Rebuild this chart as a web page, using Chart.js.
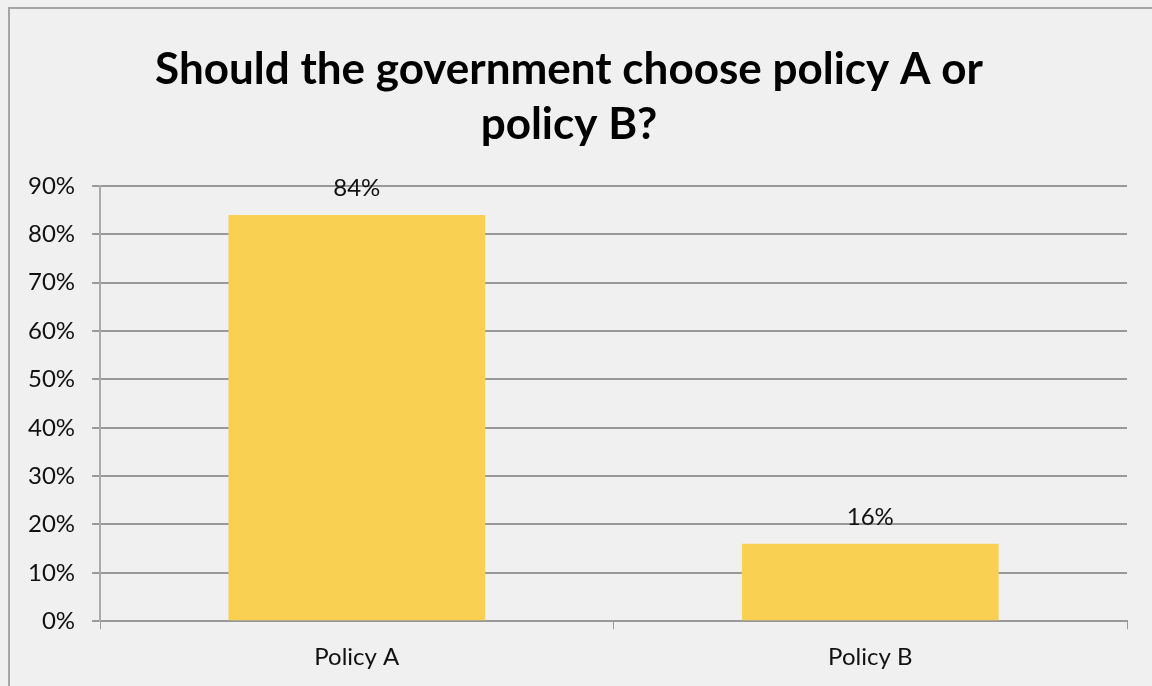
<!DOCTYPE html>
<html>
<head>
<meta charset="utf-8">
<script src="https://cdn.jsdelivr.net/npm/chart.js@4.4.1/dist/chart.umd.min.js"></script>
<style>
  html, body { margin: 0; padding: 0; background: #f0f0f0; }
  #wrap { position: relative; width: 1152px; height: 686px; overflow: hidden; }
  #frame {
    position: absolute; left: 8px; top: 7px; width: 1300px; height: 800px;
    border-left: 2px solid #a6a6a6; border-top: 2px solid #a6a6a6;
  }
  canvas { position: absolute; left: 0; top: 0; }
</style>
</head>
<body>
<div id="wrap">
  <div id="frame"></div>
  <canvas id="chart" width="1152" height="686"></canvas>
</div>
<script>
// values
const policies = ['Policy A', 'Policy B'];
const shares = [84, 16];
const titleLines = ['Should the government choose policy A or', 'policy B?'];

const FONT = 'Lato, "Open Sans", sans-serif';

// simple value labels above the bars
const barLabels = {
    id: 'barLabels',
    afterDatasetsDraw(chart) {
        const ctx = chart.ctx;
        const meta = chart.getDatasetMeta(0);
        ctx.save();
        ctx.font = '24px ' + FONT;
        ctx.fillStyle = '#111';
        ctx.textAlign = 'center';
        ctx.textBaseline = 'bottom';
        meta.data.forEach(function (bar, i) {
            ctx.fillText(shares[i] + '%', bar.x, bar.y - 15);
        });
        ctx.restore();
    }
};

const ctx = document.getElementById('chart').getContext('2d');

const policyChart = new Chart(ctx, {
    type: 'bar',
    data: {
        labels: policies,
        datasets: [{
            data: shares,
            backgroundColor: '#f9d052',
            borderWidth: 0,
            barPercentage: 0.5,
            categoryPercentage: 1.0
        }]
    },
    options: {
        responsive: false,
        animation: false,
        layout: {
            padding: { left: 11, right: 25, top: 0, bottom: 0 }
        },
        plugins: {
            legend: { display: false },
            tooltip: { enabled: false },
            title: {
                display: true,
                text: titleLines,
                color: '#000',
                font: { family: FONT, size: 44, weight: 'bold', lineHeight: 1.25 },
                padding: { top: 42, bottom: 34 }
            }
        },
        scales: {
            x: {
                grid: {
                    drawOnChartArea: false,
                    drawTicks: true,
                    tickLength: 8,
                    color: '#999'
                },
                border: { color: '#999', width: 2 },
                ticks: {
                    color: '#111',
                    padding: 14,
                    font: { family: FONT, size: 24 }
                }
            },
            y: {
                min: 0,
                max: 90,
                grid: {
                    color: '#999',
                    lineWidth: 2,
                    tickLength: 8
                },
                border: { color: '#aaa', width: 2 },
                ticks: {
                    stepSize: 10,
                    color: '#111',
                    padding: 17,
                    font: { family: FONT, size: 24 },
                    callback: function (v) { return v + '%'; }
                }
            }
        }
    },
    plugins: [barLabels]
});
</script>
</body>
</html>
